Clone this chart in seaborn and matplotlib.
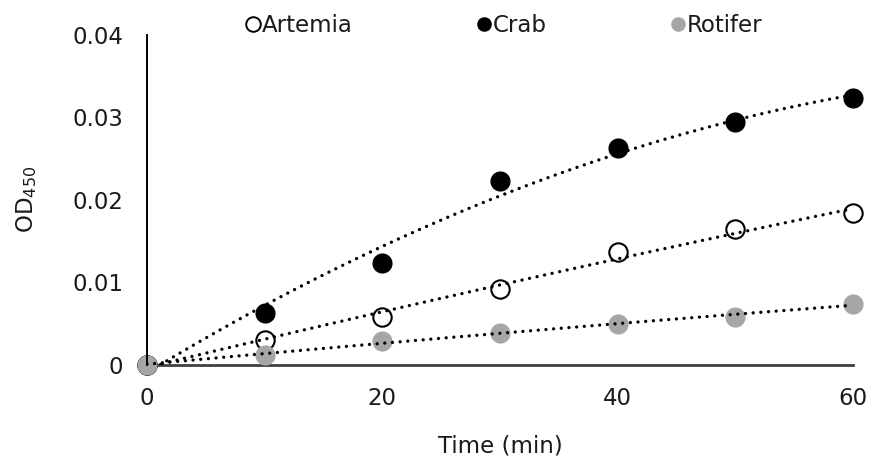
import numpy as np
import pandas as pd
import matplotlib
matplotlib.use("Agg")
import matplotlib.pyplot as plt
import seaborn as sns

time_min = [0, 10, 20, 30, 40, 50, 60]
artemia = [0.0, 0.0030, 0.0058, 0.0092, 0.0137, 0.0164, 0.0184]
crab = [0.0, 0.0063, 0.0123, 0.0223, 0.0263, 0.0294, 0.0324]
rotifer = [0.0, 0.0012, 0.0029, 0.0038, 0.0049, 0.0058, 0.0074]
series_names = ["Artemia", "Crab", "Rotifer"]
x_ticks = [0, 20, 40, 60]
y_ticks = [0, 0.01, 0.02, 0.03, 0.04]
y_tick_labels = ["0", "0.01", "0.02", "0.03", "0.04"]

sns.set_theme(style="white")
plt.rcParams["font.family"] = ["DejaVu Sans"]
plt.rcParams["font.stretch"] = "normal"

FS = 16.5

fig = plt.figure(figsize=(8.73, 4.61), dpi=100)
ax = fig.add_axes([0.1684, 0.2093, 0.977 - 0.1684, 0.924 - 0.2093])

df = pd.DataFrame({
    "Time": time_min * 3,
    "OD": artemia + crab + rotifer,
    "Series": [s for s in series_names for _ in time_min],
})

styles = {
    "Artemia": dict(facecolor="white", edgecolor="black", lw=1.5, s=175, z=2),
    "Crab": dict(facecolor="black", edgecolor="black", lw=0, s=210, z=2.1),
    "Rotifer": dict(facecolor="#a6a6a6", edgecolor="#a6a6a6", lw=0, s=210, z=2.2),
}

# trendlines (2nd order polynomial fits, like Excel)
xs = np.linspace(0, 60, 200)
for name in series_names:
    sub = df[df.Series == name]
    coef = np.polyfit(sub.Time, sub.OD, 2)
    fit = pd.DataFrame({"Time": xs, "OD": np.polyval(coef, xs)})
    sns.lineplot(data=fit, x="Time", y="OD", ax=ax, color="black", lw=2.4,
                 linestyle=(0, (0.01, 2.3)), dash_capstyle="round",
                 zorder=3, legend=False)

handles = []
for name in series_names:
    sub = df[df.Series == name]
    st = styles[name]
    sns.scatterplot(data=sub, x="Time", y="OD", ax=ax, s=st["s"],
                    color=st["facecolor"], edgecolor=st["edgecolor"],
                    linewidth=st["lw"], zorder=st["z"],
                    legend=False, clip_on=False)
    h = plt.Line2D([], [], marker="o", linestyle="none", markersize=10.5,
                   markerfacecolor=st["facecolor"],
                   markeredgecolor=st["edgecolor"],
                   markeredgewidth=1.4 if name == "Artemia" else 0)
    handles.append(h)

ax.set_xlim(0, 60)
ax.set_ylim(0, 0.04)
ax.set_xticks(x_ticks)
ax.set_yticks(y_ticks)
ax.set_yticklabels(y_tick_labels)
ax.tick_params(axis="both", length=0, labelsize=FS, colors="#1a1a1a")
ax.tick_params(axis="x", pad=16)
ax.tick_params(axis="y", pad=17)

for s in ["top", "right"]:
    ax.spines[s].set_visible(False)
ax.spines["left"].set_color("black")
ax.spines["left"].set_linewidth(1.4)
ax.spines["bottom"].set_color("#404040")
ax.spines["bottom"].set_linewidth(2.0)
ax.spines["bottom"].set_zorder(1)

ax.set_xlabel("Time (min)", fontsize=FS, color="#1a1a1a", labelpad=18)
ax.set_ylabel("OD$_{450}$", fontsize=FS, color="#1a1a1a", labelpad=24)

fig.legend(handles, series_names, loc="upper center",
           bbox_to_anchor=(0.575, 1.015), ncol=3, frameon=False,
           fontsize=FS, handletextpad=-0.1, columnspacing=5.2,
           handlelength=1.0, labelcolor="#1a1a1a")

fig.savefig("out.png", dpi=100, facecolor="white")
